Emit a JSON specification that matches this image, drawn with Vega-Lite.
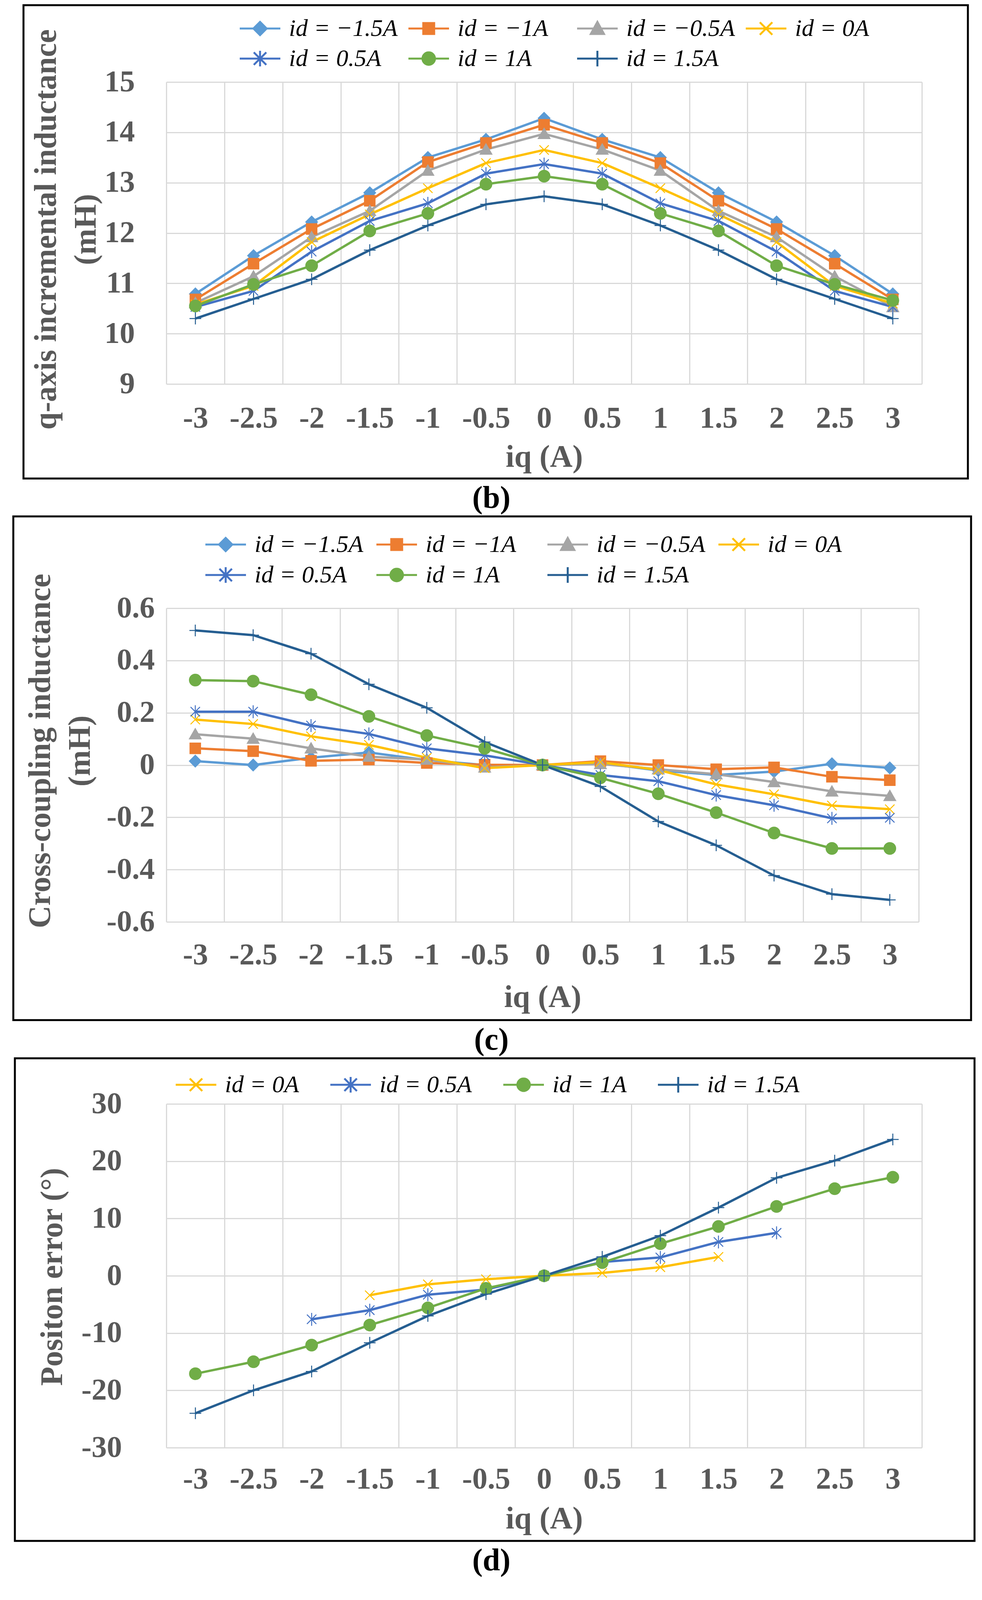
{
  "$schema": "https://vega.github.io/schema/vega-lite/v6.json",
  "background": "white",
  "padding": {"left": 0, "top": 10, "right": 0, "bottom": 0},
  "columns": 1,
  "align": "none",
  "spacing": 2,
  "datasets": {
    "b": [
      {"s": "id = −1.5A", "x": -3, "y": 10.79}, {"s": "id = −1.5A", "x": -2.5, "y": 11.55}, {"s": "id = −1.5A", "x": -2, "y": 12.22}, {"s": "id = −1.5A", "x": -1.5, "y": 12.8}, {"s": "id = −1.5A", "x": -1, "y": 13.5}, {"s": "id = −1.5A", "x": -0.5, "y": 13.86}, {"s": "id = −1.5A", "x": 0, "y": 14.28}, {"s": "id = −1.5A", "x": 0.5, "y": 13.86}, {"s": "id = −1.5A", "x": 1, "y": 13.5}, {"s": "id = −1.5A", "x": 1.5, "y": 12.8}, {"s": "id = −1.5A", "x": 2, "y": 12.22}, {"s": "id = −1.5A", "x": 2.5, "y": 11.55}, {"s": "id = −1.5A", "x": 3, "y": 10.79},
      {"s": "id = −1A", "x": -3, "y": 10.68}, {"s": "id = −1A", "x": -2.5, "y": 11.39}, {"s": "id = −1A", "x": -2, "y": 12.08}, {"s": "id = −1A", "x": -1.5, "y": 12.64}, {"s": "id = −1A", "x": -1, "y": 13.41}, {"s": "id = −1A", "x": -0.5, "y": 13.79}, {"s": "id = −1A", "x": 0, "y": 14.15}, {"s": "id = −1A", "x": 0.5, "y": 13.79}, {"s": "id = −1A", "x": 1, "y": 13.39}, {"s": "id = −1A", "x": 1.5, "y": 12.64}, {"s": "id = −1A", "x": 2, "y": 12.08}, {"s": "id = −1A", "x": 2.5, "y": 11.39}, {"s": "id = −1A", "x": 3, "y": 10.68},
      {"s": "id = −0.5A", "x": -3, "y": 10.61}, {"s": "id = −0.5A", "x": -2.5, "y": 11.14}, {"s": "id = −0.5A", "x": -2, "y": 11.92}, {"s": "id = −0.5A", "x": -1.5, "y": 12.44}, {"s": "id = −0.5A", "x": -1, "y": 13.24}, {"s": "id = −0.5A", "x": -0.5, "y": 13.66}, {"s": "id = −0.5A", "x": 0, "y": 13.97}, {"s": "id = −0.5A", "x": 0.5, "y": 13.66}, {"s": "id = −0.5A", "x": 1, "y": 13.24}, {"s": "id = −0.5A", "x": 1.5, "y": 12.44}, {"s": "id = −0.5A", "x": 2, "y": 11.92}, {"s": "id = −0.5A", "x": 2.5, "y": 11.14}, {"s": "id = −0.5A", "x": 3, "y": 10.53},
      {"s": "id = 0A", "x": -3, "y": 10.58}, {"s": "id = 0A", "x": -2.5, "y": 10.95}, {"s": "id = 0A", "x": -2, "y": 11.82}, {"s": "id = 0A", "x": -1.5, "y": 12.37}, {"s": "id = 0A", "x": -1, "y": 12.89}, {"s": "id = 0A", "x": -0.5, "y": 13.39}, {"s": "id = 0A", "x": 0, "y": 13.65}, {"s": "id = 0A", "x": 0.5, "y": 13.39}, {"s": "id = 0A", "x": 1, "y": 12.89}, {"s": "id = 0A", "x": 1.5, "y": 12.37}, {"s": "id = 0A", "x": 2, "y": 11.82}, {"s": "id = 0A", "x": 2.5, "y": 10.95}, {"s": "id = 0A", "x": 3, "y": 10.6},
      {"s": "id = 0.5A", "x": -3, "y": 10.53}, {"s": "id = 0.5A", "x": -2.5, "y": 10.85}, {"s": "id = 0.5A", "x": -2, "y": 11.63}, {"s": "id = 0.5A", "x": -1.5, "y": 12.24}, {"s": "id = 0.5A", "x": -1, "y": 12.59}, {"s": "id = 0.5A", "x": -0.5, "y": 13.18}, {"s": "id = 0.5A", "x": 0, "y": 13.37}, {"s": "id = 0.5A", "x": 0.5, "y": 13.18}, {"s": "id = 0.5A", "x": 1, "y": 12.59}, {"s": "id = 0.5A", "x": 1.5, "y": 12.24}, {"s": "id = 0.5A", "x": 2, "y": 11.63}, {"s": "id = 0.5A", "x": 2.5, "y": 10.85}, {"s": "id = 0.5A", "x": 3, "y": 10.53},
      {"s": "id = 1A", "x": -3, "y": 10.55}, {"s": "id = 1A", "x": -2.5, "y": 10.98}, {"s": "id = 1A", "x": -2, "y": 11.35}, {"s": "id = 1A", "x": -1.5, "y": 12.04}, {"s": "id = 1A", "x": -1, "y": 12.39}, {"s": "id = 1A", "x": -0.5, "y": 12.97}, {"s": "id = 1A", "x": 0, "y": 13.13}, {"s": "id = 1A", "x": 0.5, "y": 12.97}, {"s": "id = 1A", "x": 1, "y": 12.39}, {"s": "id = 1A", "x": 1.5, "y": 12.04}, {"s": "id = 1A", "x": 2, "y": 11.35}, {"s": "id = 1A", "x": 2.5, "y": 10.98}, {"s": "id = 1A", "x": 3, "y": 10.66},
      {"s": "id = 1.5A", "x": -3, "y": 10.3}, {"s": "id = 1.5A", "x": -2.5, "y": 10.69}, {"s": "id = 1.5A", "x": -2, "y": 11.08}, {"s": "id = 1.5A", "x": -1.5, "y": 11.66}, {"s": "id = 1.5A", "x": -1, "y": 12.15}, {"s": "id = 1.5A", "x": -0.5, "y": 12.57}, {"s": "id = 1.5A", "x": 0, "y": 12.73}, {"s": "id = 1.5A", "x": 0.5, "y": 12.57}, {"s": "id = 1.5A", "x": 1, "y": 12.15}, {"s": "id = 1.5A", "x": 1.5, "y": 11.66}, {"s": "id = 1.5A", "x": 2, "y": 11.08}, {"s": "id = 1.5A", "x": 2.5, "y": 10.69}, {"s": "id = 1.5A", "x": 3, "y": 10.3}
    ],
    "c": [
      {"s": "id = −1.5A", "x": -3, "y": 0.015}, {"s": "id = −1.5A", "x": -2.5, "y": 0}, {"s": "id = −1.5A", "x": -2, "y": 0.028}, {"s": "id = −1.5A", "x": -1.5, "y": 0.048}, {"s": "id = −1.5A", "x": -1, "y": 0.019}, {"s": "id = −1.5A", "x": -0.5, "y": 0}, {"s": "id = −1.5A", "x": 0, "y": 0}, {"s": "id = −1.5A", "x": 0.5, "y": 0.008}, {"s": "id = −1.5A", "x": 1, "y": -0.021}, {"s": "id = −1.5A", "x": 1.5, "y": -0.038}, {"s": "id = −1.5A", "x": 2, "y": -0.025}, {"s": "id = −1.5A", "x": 2.5, "y": 0.005}, {"s": "id = −1.5A", "x": 3, "y": -0.011},
      {"s": "id = −1A", "x": -3, "y": 0.064}, {"s": "id = −1A", "x": -2.5, "y": 0.053}, {"s": "id = −1A", "x": -2, "y": 0.016}, {"s": "id = −1A", "x": -1.5, "y": 0.021}, {"s": "id = −1A", "x": -1, "y": 0.008}, {"s": "id = −1A", "x": -0.5, "y": 0.001}, {"s": "id = −1A", "x": 0, "y": 0}, {"s": "id = −1A", "x": 0.5, "y": 0.015}, {"s": "id = −1A", "x": 1, "y": 0}, {"s": "id = −1A", "x": 1.5, "y": -0.016}, {"s": "id = −1A", "x": 2, "y": -0.009}, {"s": "id = −1A", "x": 2.5, "y": -0.045}, {"s": "id = −1A", "x": 3, "y": -0.058},
      {"s": "id = −0.5A", "x": -3, "y": 0.118}, {"s": "id = −0.5A", "x": -2.5, "y": 0.101}, {"s": "id = −0.5A", "x": -2, "y": 0.064}, {"s": "id = −0.5A", "x": -1.5, "y": 0.032}, {"s": "id = −0.5A", "x": -1, "y": 0.021}, {"s": "id = −0.5A", "x": -0.5, "y": -0.009}, {"s": "id = −0.5A", "x": 0, "y": 0}, {"s": "id = −0.5A", "x": 0.5, "y": 0.004}, {"s": "id = −0.5A", "x": 1, "y": -0.016}, {"s": "id = −0.5A", "x": 1.5, "y": -0.035}, {"s": "id = −0.5A", "x": 2, "y": -0.065}, {"s": "id = −0.5A", "x": 2.5, "y": -0.101}, {"s": "id = −0.5A", "x": 3, "y": -0.118},
      {"s": "id = 0A", "x": -3, "y": 0.174}, {"s": "id = 0A", "x": -2.5, "y": 0.157}, {"s": "id = 0A", "x": -2, "y": 0.11}, {"s": "id = 0A", "x": -1.5, "y": 0.077}, {"s": "id = 0A", "x": -1, "y": 0.028}, {"s": "id = 0A", "x": -0.5, "y": -0.012}, {"s": "id = 0A", "x": 0, "y": 0}, {"s": "id = 0A", "x": 0.5, "y": 0.011}, {"s": "id = 0A", "x": 1, "y": -0.019}, {"s": "id = 0A", "x": 1.5, "y": -0.074}, {"s": "id = 0A", "x": 2, "y": -0.112}, {"s": "id = 0A", "x": 2.5, "y": -0.155}, {"s": "id = 0A", "x": 3, "y": -0.169},
      {"s": "id = 0.5A", "x": -3, "y": 0.204}, {"s": "id = 0.5A", "x": -2.5, "y": 0.204}, {"s": "id = 0.5A", "x": -2, "y": 0.151}, {"s": "id = 0.5A", "x": -1.5, "y": 0.119}, {"s": "id = 0.5A", "x": -1, "y": 0.064}, {"s": "id = 0.5A", "x": -0.5, "y": 0.037}, {"s": "id = 0.5A", "x": 0, "y": 0}, {"s": "id = 0.5A", "x": 0.5, "y": -0.038}, {"s": "id = 0.5A", "x": 1, "y": -0.062}, {"s": "id = 0.5A", "x": 1.5, "y": -0.115}, {"s": "id = 0.5A", "x": 2, "y": -0.154}, {"s": "id = 0.5A", "x": 2.5, "y": -0.204}, {"s": "id = 0.5A", "x": 3, "y": -0.202},
      {"s": "id = 1A", "x": -3, "y": 0.325}, {"s": "id = 1A", "x": -2.5, "y": 0.321}, {"s": "id = 1A", "x": -2, "y": 0.269}, {"s": "id = 1A", "x": -1.5, "y": 0.186}, {"s": "id = 1A", "x": -1, "y": 0.113}, {"s": "id = 1A", "x": -0.5, "y": 0.064}, {"s": "id = 1A", "x": 0, "y": 0}, {"s": "id = 1A", "x": 0.5, "y": -0.049}, {"s": "id = 1A", "x": 1, "y": -0.11}, {"s": "id = 1A", "x": 1.5, "y": -0.182}, {"s": "id = 1A", "x": 2, "y": -0.26}, {"s": "id = 1A", "x": 2.5, "y": -0.319}, {"s": "id = 1A", "x": 3, "y": -0.319},
      {"s": "id = 1.5A", "x": -3, "y": 0.515}, {"s": "id = 1.5A", "x": -2.5, "y": 0.497}, {"s": "id = 1.5A", "x": -2, "y": 0.426}, {"s": "id = 1.5A", "x": -1.5, "y": 0.309}, {"s": "id = 1.5A", "x": -1, "y": 0.219}, {"s": "id = 1.5A", "x": -0.5, "y": 0.088}, {"s": "id = 1.5A", "x": 0, "y": 0}, {"s": "id = 1.5A", "x": 0.5, "y": -0.082}, {"s": "id = 1.5A", "x": 1, "y": -0.216}, {"s": "id = 1.5A", "x": 1.5, "y": -0.307}, {"s": "id = 1.5A", "x": 2, "y": -0.423}, {"s": "id = 1.5A", "x": 2.5, "y": -0.494}, {"s": "id = 1.5A", "x": 3, "y": -0.516}
    ],
    "d": [
      {"s": "id = 0A", "x": -1.5, "y": -3.4}, {"s": "id = 0A", "x": -1, "y": -1.5}, {"s": "id = 0A", "x": -0.5, "y": -0.6}, {"s": "id = 0A", "x": 0, "y": 0}, {"s": "id = 0A", "x": 0.5, "y": 0.5}, {"s": "id = 0A", "x": 1, "y": 1.5}, {"s": "id = 0A", "x": 1.5, "y": 3.3},
      {"s": "id = 0.5A", "x": -2, "y": -7.6}, {"s": "id = 0.5A", "x": -1.5, "y": -6.0}, {"s": "id = 0.5A", "x": -1, "y": -3.3}, {"s": "id = 0.5A", "x": -0.5, "y": -2.4}, {"s": "id = 0.5A", "x": 0, "y": 0}, {"s": "id = 0.5A", "x": 0.5, "y": 2.4}, {"s": "id = 0.5A", "x": 1, "y": 3.2}, {"s": "id = 0.5A", "x": 1.5, "y": 5.9}, {"s": "id = 0.5A", "x": 2, "y": 7.5},
      {"s": "id = 1A", "x": -3, "y": -17.1}, {"s": "id = 1A", "x": -2.5, "y": -15.0}, {"s": "id = 1A", "x": -2, "y": -12.1}, {"s": "id = 1A", "x": -1.5, "y": -8.6}, {"s": "id = 1A", "x": -1, "y": -5.6}, {"s": "id = 1A", "x": -0.5, "y": -2.2}, {"s": "id = 1A", "x": 0, "y": 0}, {"s": "id = 1A", "x": 0.5, "y": 2.3}, {"s": "id = 1A", "x": 1, "y": 5.6}, {"s": "id = 1A", "x": 1.5, "y": 8.6}, {"s": "id = 1A", "x": 2, "y": 12.1}, {"s": "id = 1A", "x": 2.5, "y": 15.2}, {"s": "id = 1A", "x": 3, "y": 17.2},
      {"s": "id = 1.5A", "x": -3, "y": -24.0}, {"s": "id = 1.5A", "x": -2.5, "y": -20.0}, {"s": "id = 1.5A", "x": -2, "y": -16.7}, {"s": "id = 1.5A", "x": -1.5, "y": -11.7}, {"s": "id = 1.5A", "x": -1, "y": -7.0}, {"s": "id = 1.5A", "x": -0.5, "y": -3.2}, {"s": "id = 1.5A", "x": 0, "y": 0}, {"s": "id = 1.5A", "x": 0.5, "y": 3.3}, {"s": "id = 1.5A", "x": 1, "y": 7.0}, {"s": "id = 1.5A", "x": 1.5, "y": 11.9}, {"s": "id = 1.5A", "x": 2, "y": 17.1}, {"s": "id = 1.5A", "x": 2.5, "y": 20.1}, {"s": "id = 1.5A", "x": 3, "y": 23.8}
    ]
  },
  "concat": [
    {
      "width": 1935,
      "height": 773,
      "title": {"text": "(b)", "orient": "bottom", "frame": "bounds", "anchor": "middle", "offset": 10, "font": "Liberation Serif", "fontSize": 80, "fontWeight": "bold", "color": "black"},
      "layer": [
        {
          "data": {"values": [{}]},
          "mark": {"type": "rect", "fillOpacity": 0, "strokeOpacity": 0},
          "encoding": {
            "x": {"datum": -4.678, "type": "quantitative", "scale": {"domain": [-3.25, 3.25], "nice": false, "zero": false}},
            "x2": {"datum": 3.771},
            "y": {"datum": 16.527, "type": "quantitative", "scale": {"domain": [9, 15], "nice": false, "zero": false}},
            "y2": {"datum": 7.122}
          }
        },
        {
          "data": {"values": [{}]},
          "mark": {"type": "rect", "fillOpacity": 0, "stroke": "black", "strokeWidth": 5},
          "encoding": {
            "x": {"datum": -4.479, "type": "quantitative", "scale": {"domain": [-3.25, 3.25], "nice": false, "zero": false}},
            "x2": {"datum": 3.646},
            "y": {"datum": 16.527, "type": "quantitative", "scale": {"domain": [9, 15], "nice": false, "zero": false}},
            "y2": {"datum": 7.122}
          }
        },
        {
          "data": {"name": "b"},
          "mark": {"type": "line", "strokeWidth": 6},
          "encoding": {
            "x": {"field": "x", "type": "quantitative", "scale": {"domain": [-3.25, 3.25], "nice": false, "zero": false},
              "axis": {"title": "iq (A)", "titleY": 187, "values": [-3.25, -3, -2.75, -2.5, -2.25, -2, -1.75, -1.5, -1.25, -1, -0.75, -0.5, -0.25, 0, 0.25, 0.5, 0.75, 1, 1.25, 1.5, 1.75, 2, 2.25, 2.5, 2.75, 3, 3.25],
                "labelExpr": "abs(datum.value * 4) % 2 == 1 ? '' : '' + datum.value",
                "gridOpacity": {"condition": {"test": "abs(datum.value * 4) % 2 == 1", "value": 1}, "value": 0},
                "labelPadding": 88, "labelBaseline": "middle"}},
            "y": {"field": "y", "type": "quantitative", "scale": {"domain": [9, 15], "nice": false, "zero": false},
              "axis": {"title": ["q-axis incremental inductance", "(mH)"], "titleX": -308, "titleY": 377, "values": [9, 10, 11, 12, 13, 14, 15], "labelExpr": "'' + datum.value", "labelPadding": 81}},
            "color": {"field": "s", "type": "nominal",
              "scale": {"domain": ["id = −1.5A", "id = −1A", "id = −0.5A", "id = 0A", "id = 0.5A", "id = 1A", "id = 1.5A"], "range": ["#5B9BD5", "#ED7D31", "#A5A5A5", "#FFC000", "#4472C4", "#70AD47", "#255E91"]},
              "legend": {"orient": "none", "legendX": 209, "legendY": -168, "columns": 4, "direction": "horizontal", "columnPadding": 17, "rowPadding": 15,
                "encode": {"symbols": {"update": {
                  "shape": {"signal": "'M-2.6,0H2.6' + (datum.value == 'id = −1.5A' ? 'M0,-0.85L0.85,0L0,0.85L-0.85,0Z' : datum.value == 'id = −1A' ? 'M-0.7,-0.7H0.7V0.7H-0.7Z' : datum.value == 'id = −0.5A' ? 'M0,-0.85L0.85,0.7H-0.85Z' : datum.value == 'id = 0A' ? 'M-0.8,-0.8L0.8,0.8M-0.8,0.8L0.8,-0.8' : datum.value == 'id = 0.5A' ? 'M-0.8,-0.8L0.8,0.8M-0.8,0.8L0.8,-0.8M0,-1V1' : datum.value == 'id = 1A' ? 'M0.8,0A0.8,0.8,0,1,1,-0.8,0A0.8,0.8,0,1,1,0.8,0Z' : 'M0,-1V1')"},
                  "fill": {"signal": "datum.value == 'id = −1.5A' ? '#5B9BD5' : datum.value == 'id = −1A' ? '#ED7D31' : datum.value == 'id = −0.5A' ? '#A5A5A5' : datum.value == 'id = 0A' ? '#FFC000' : datum.value == 'id = 0.5A' ? '#4472C4' : datum.value == 'id = 1A' ? '#70AD47' : '#255E91'"},
                  "strokeWidth": {"value": 5},
                  "opacity": {"value": 1}
                }}}}}
          }
        },
        {
          "data": {"name": "b"},
          "mark": {"type": "point", "filled": true, "size": 900, "strokeWidth": 2.5, "opacity": 1},
          "encoding": {
            "x": {"field": "x", "type": "quantitative", "scale": {"domain": [-3.25, 3.25], "nice": false, "zero": false}},
            "y": {"field": "y", "type": "quantitative", "scale": {"domain": [9, 15], "nice": false, "zero": false}},
            "fill": {"field": "s", "type": "nominal", "legend": null,
              "scale": {"domain": ["id = 1.5A", "id = 1A", "id = 0.5A", "id = 0A", "id = −0.5A", "id = −1A", "id = −1.5A"], "range": ["#255E91", "#70AD47", "#4472C4", "#FFC000", "#A5A5A5", "#ED7D31", "#5B9BD5"]}},
            "stroke": {"field": "s", "type": "nominal", "legend": null,
              "scale": {"domain": ["id = 1.5A", "id = 1A", "id = 0.5A", "id = 0A", "id = −0.5A", "id = −1A", "id = −1.5A"], "range": ["#255E91", "#70AD47", "#4472C4", "#FFC000", "#A5A5A5", "#ED7D31", "#5B9BD5"]}},
            "shape": {"field": "s", "type": "nominal", "legend": null,
              "scale": {"domain": ["id = 1.5A", "id = 1A", "id = 0.5A", "id = 0A", "id = −0.5A", "id = −1A", "id = −1.5A"],
                "range": ["M-1,0H1M0,-1V1", "circle", "M-0.8,-0.8L0.8,0.8M-0.8,0.8L0.8,-0.8M0,-1.1V1.1", "M-0.8,-0.8L0.8,0.8M-0.8,0.8L0.8,-0.8", "M0,-0.95L1,0.8H-1Z", "M-0.9,-0.9H0.9V0.9H-0.9Z", "M0,-1L1,0L0,1L-1,0Z"]}}
          }
        }
      ]
    },
    {
      "width": 1927,
      "height": 803,
      "title": {"text": "(c)", "orient": "bottom", "frame": "bounds", "anchor": "middle", "offset": 10, "font": "Liberation Serif", "fontSize": 80, "fontWeight": "bold", "color": "black"},
      "layer": [
        {
          "data": {"values": [{}]},
          "mark": {"type": "rect", "fillOpacity": 0, "strokeOpacity": 0},
          "encoding": {
            "x": {"datum": -4.683, "type": "quantitative", "scale": {"domain": [-3.25, 3.25], "nice": false, "zero": false}},
            "x2": {"datum": 3.8},
            "y": {"datum": 0.951, "type": "quantitative", "scale": {"domain": [-0.6, 0.6], "nice": false, "zero": false}},
            "y2": {"datum": -0.976}
          }
        },
        {
          "data": {"values": [{}]},
          "mark": {"type": "rect", "fillOpacity": 0, "stroke": "black", "strokeWidth": 5},
          "encoding": {
            "x": {"datum": -4.572, "type": "quantitative", "scale": {"domain": [-3.25, 3.25], "nice": false, "zero": false}},
            "x2": {"datum": 3.702},
            "y": {"datum": 0.951, "type": "quantitative", "scale": {"domain": [-0.6, 0.6], "nice": false, "zero": false}},
            "y2": {"datum": -0.976}
          }
        },
        {
          "data": {"name": "c"},
          "mark": {"type": "line", "strokeWidth": 6},
          "encoding": {
            "x": {"field": "x", "type": "quantitative", "scale": {"domain": [-3.25, 3.25], "nice": false, "zero": false},
              "axis": {"title": "iq (A)", "titleY": 193, "values": [-3.25, -3, -2.75, -2.5, -2.25, -2, -1.75, -1.5, -1.25, -1, -0.75, -0.5, -0.25, 0, 0.25, 0.5, 0.75, 1, 1.25, 1.5, 1.75, 2, 2.25, 2.5, 2.75, 3, 3.25],
                "labelExpr": "abs(datum.value * 4) % 2 == 1 ? '' : '' + datum.value",
                "gridOpacity": {"condition": {"test": "abs(datum.value * 4) % 2 == 1", "value": 1}, "value": 0},
                "labelPadding": 85, "labelBaseline": "middle"}},
            "y": {"field": "y", "type": "quantitative", "scale": {"domain": [-0.6, 0.6], "nice": false, "zero": false},
              "axis": {"title": ["Cross-coupling inductance", "(mH)"], "titleX": -323, "titleY": 365, "values": [-0.6, -0.4, -0.2, 0, 0.2, 0.4, 0.6], "labelExpr": "'' + datum.value", "labelPadding": 30}},
            "color": {"field": "s", "type": "nominal",
              "scale": {"domain": ["id = −1.5A", "id = −1A", "id = −0.5A", "id = 0A", "id = 0.5A", "id = 1A", "id = 1.5A"], "range": ["#5B9BD5", "#ED7D31", "#A5A5A5", "#FFC000", "#4472C4", "#70AD47", "#255E91"]},
              "legend": {"orient": "none", "legendX": 121, "legendY": -194, "columns": 4, "direction": "horizontal", "columnPadding": 23, "rowPadding": 16,
                "encode": {"symbols": {"update": {
                  "shape": {"signal": "'M-2.6,0H2.6' + (datum.value == 'id = −1.5A' ? 'M0,-0.85L0.85,0L0,0.85L-0.85,0Z' : datum.value == 'id = −1A' ? 'M-0.7,-0.7H0.7V0.7H-0.7Z' : datum.value == 'id = −0.5A' ? 'M0,-0.85L0.85,0.7H-0.85Z' : datum.value == 'id = 0A' ? 'M-0.8,-0.8L0.8,0.8M-0.8,0.8L0.8,-0.8' : datum.value == 'id = 0.5A' ? 'M-0.8,-0.8L0.8,0.8M-0.8,0.8L0.8,-0.8M0,-1V1' : datum.value == 'id = 1A' ? 'M0.8,0A0.8,0.8,0,1,1,-0.8,0A0.8,0.8,0,1,1,0.8,0Z' : 'M0,-1V1')"},
                  "fill": {"signal": "datum.value == 'id = −1.5A' ? '#5B9BD5' : datum.value == 'id = −1A' ? '#ED7D31' : datum.value == 'id = −0.5A' ? '#A5A5A5' : datum.value == 'id = 0A' ? '#FFC000' : datum.value == 'id = 0.5A' ? '#4472C4' : datum.value == 'id = 1A' ? '#70AD47' : '#255E91'"},
                  "strokeWidth": {"value": 5},
                  "opacity": {"value": 1}
                }}}}}
          }
        },
        {
          "data": {"name": "c"},
          "mark": {"type": "point", "filled": true, "size": 900, "strokeWidth": 2.5, "opacity": 1},
          "encoding": {
            "x": {"field": "x", "type": "quantitative", "scale": {"domain": [-3.25, 3.25], "nice": false, "zero": false}},
            "y": {"field": "y", "type": "quantitative", "scale": {"domain": [-0.6, 0.6], "nice": false, "zero": false}},
            "fill": {"field": "s", "type": "nominal", "legend": null,
              "scale": {"domain": ["id = 1.5A", "id = 1A", "id = 0.5A", "id = 0A", "id = −0.5A", "id = −1A", "id = −1.5A"], "range": ["#255E91", "#70AD47", "#4472C4", "#FFC000", "#A5A5A5", "#ED7D31", "#5B9BD5"]}},
            "stroke": {"field": "s", "type": "nominal", "legend": null,
              "scale": {"domain": ["id = 1.5A", "id = 1A", "id = 0.5A", "id = 0A", "id = −0.5A", "id = −1A", "id = −1.5A"], "range": ["#255E91", "#70AD47", "#4472C4", "#FFC000", "#A5A5A5", "#ED7D31", "#5B9BD5"]}},
            "shape": {"field": "s", "type": "nominal", "legend": null,
              "scale": {"domain": ["id = 1.5A", "id = 1A", "id = 0.5A", "id = 0A", "id = −0.5A", "id = −1A", "id = −1.5A"],
                "range": ["M-1,0H1M0,-1V1", "circle", "M-0.8,-0.8L0.8,0.8M-0.8,0.8L0.8,-0.8M0,-1.1V1.1", "M-0.8,-0.8L0.8,0.8M-0.8,0.8L0.8,-0.8", "M0,-0.95L1,0.8H-1Z", "M-0.9,-0.9H0.9V0.9H-0.9Z", "M0,-1L1,0L0,1L-1,0Z"]}}
          }
        }
      ]
    },
    {
      "width": 1935,
      "height": 880,
      "title": {"text": "(d)", "orient": "bottom", "frame": "bounds", "anchor": "middle", "offset": 10, "font": "Liberation Serif", "fontSize": 80, "fontWeight": "bold", "color": "black"},
      "layer": [
        {
          "data": {"values": [{}]},
          "mark": {"type": "rect", "fillOpacity": 0, "strokeOpacity": 0},
          "encoding": {
            "x": {"datum": -4.678, "type": "quantitative", "scale": {"domain": [-3.25, 3.25], "nice": false, "zero": false}},
            "x2": {"datum": 3.771},
            "y": {"datum": 37.96, "type": "quantitative", "scale": {"domain": [-30, 30], "nice": false, "zero": false}},
            "y2": {"datum": -46.27}
          }
        },
        {
          "data": {"values": [{}]},
          "mark": {"type": "rect", "fillOpacity": 0, "stroke": "black", "strokeWidth": 5},
          "encoding": {
            "x": {"datum": -4.553, "type": "quantitative", "scale": {"domain": [-3.25, 3.25], "nice": false, "zero": false}},
            "x2": {"datum": 3.703},
            "y": {"datum": 37.96, "type": "quantitative", "scale": {"domain": [-30, 30], "nice": false, "zero": false}},
            "y2": {"datum": -46.27}
          }
        },
        {
          "data": {"name": "d"},
          "mark": {"type": "line", "strokeWidth": 6},
          "encoding": {
            "x": {"field": "x", "type": "quantitative", "scale": {"domain": [-3.25, 3.25], "nice": false, "zero": false},
              "axis": {"title": "iq (A)", "titleY": 182, "values": [-3.25, -3, -2.75, -2.5, -2.25, -2, -1.75, -1.5, -1.25, -1, -0.75, -0.5, -0.25, 0, 0.25, 0.5, 0.75, 1, 1.25, 1.5, 1.75, 2, 2.25, 2.5, 2.75, 3, 3.25],
                "labelExpr": "abs(datum.value * 4) % 2 == 1 ? '' : '' + datum.value",
                "gridOpacity": {"condition": {"test": "abs(datum.value * 4) % 2 == 1", "value": 1}, "value": 0},
                "labelPadding": 81, "labelBaseline": "middle"}},
            "y": {"field": "y", "type": "quantitative", "scale": {"domain": [-30, 30], "nice": false, "zero": false},
              "axis": {"title": "Positon error (°)", "titleX": -292, "titleY": 442, "values": [-30, -20, -10, 0, 10, 20, 30], "labelExpr": "'' + datum.value", "labelPadding": 114}},
            "color": {"field": "s", "type": "nominal",
              "scale": {"domain": ["id = 0A", "id = 0.5A", "id = 1A", "id = 1.5A"], "range": ["#FFC000", "#4472C4", "#70AD47", "#255E91"]},
              "legend": {"orient": "none", "legendX": 45, "legendY": -80, "columns": 4, "direction": "horizontal", "columnPadding": 70, "rowPadding": 16, "gridAlign": "each",
                "encode": {"symbols": {"update": {
                  "shape": {"signal": "'M-2.6,0H2.6' + (datum.value == 'id = 0A' ? 'M-0.8,-0.8L0.8,0.8M-0.8,0.8L0.8,-0.8' : datum.value == 'id = 0.5A' ? 'M-0.8,-0.8L0.8,0.8M-0.8,0.8L0.8,-0.8M0,-1V1' : datum.value == 'id = 1A' ? 'M0.8,0A0.8,0.8,0,1,1,-0.8,0A0.8,0.8,0,1,1,0.8,0Z' : 'M0,-1V1')"},
                  "fill": {"signal": "datum.value == 'id = 0A' ? '#FFC000' : datum.value == 'id = 0.5A' ? '#4472C4' : datum.value == 'id = 1A' ? '#70AD47' : '#255E91'"},
                  "strokeWidth": {"value": 5},
                  "opacity": {"value": 1}
                }}}}}
          }
        },
        {
          "data": {"name": "d"},
          "mark": {"type": "point", "filled": true, "size": 900, "strokeWidth": 2.5, "opacity": 1},
          "encoding": {
            "x": {"field": "x", "type": "quantitative", "scale": {"domain": [-3.25, 3.25], "nice": false, "zero": false}},
            "y": {"field": "y", "type": "quantitative", "scale": {"domain": [-30, 30], "nice": false, "zero": false}},
            "fill": {"field": "s", "type": "nominal", "legend": null,
              "scale": {"domain": ["id = 1.5A", "id = 1A", "id = 0.5A", "id = 0A"], "range": ["#255E91", "#70AD47", "#4472C4", "#FFC000"]}},
            "stroke": {"field": "s", "type": "nominal", "legend": null,
              "scale": {"domain": ["id = 1.5A", "id = 1A", "id = 0.5A", "id = 0A"], "range": ["#255E91", "#70AD47", "#4472C4", "#FFC000"]}},
            "shape": {"field": "s", "type": "nominal", "legend": null,
              "scale": {"domain": ["id = 1.5A", "id = 1A", "id = 0.5A", "id = 0A"],
                "range": ["M-1,0H1M0,-1V1", "circle", "M-0.8,-0.8L0.8,0.8M-0.8,0.8L0.8,-0.8M0,-1.1V1.1", "M-0.8,-0.8L0.8,0.8M-0.8,0.8L0.8,-0.8"]}}
          }
        }
      ]
    }
  ],
  "resolve": {
    "scale": {"x": "independent", "y": "independent", "color": "independent", "fill": "independent", "stroke": "independent", "shape": "independent"},
    "legend": {"shape": "independent", "color": "independent", "fill": "independent", "stroke": "independent"}
  },
  "config": {
    "view": {"stroke": null},
    "axis": {
      "grid": true,
      "gridColor": "#D9D9D9",
      "gridWidth": 3,
      "domain": false,
      "ticks": false,
      "labelOverlap": false,
      "labelFlush": false,
      "labelFont": "Liberation Serif",
      "labelFontWeight": "bold",
      "labelFontSize": 78,
      "labelColor": "#595959",
      "titleFont": "Liberation Serif",
      "titleFontWeight": "bold",
      "titleFontSize": 80,
      "titleColor": "#595959",
      "titleBaseline": "middle",
      "titleLineHeight": 102
    },
    "legend": {
      "title": null,
      "padding": 0,
      "symbolSize": 1600,
      "labelFont": "Liberation Serif",
      "labelFontStyle": "italic",
      "labelFontSize": 62,
      "labelColor": "black",
      "labelOffset": 43,
      "labelLimit": 0,
      "gridAlign": "all"
    }
  }
}
